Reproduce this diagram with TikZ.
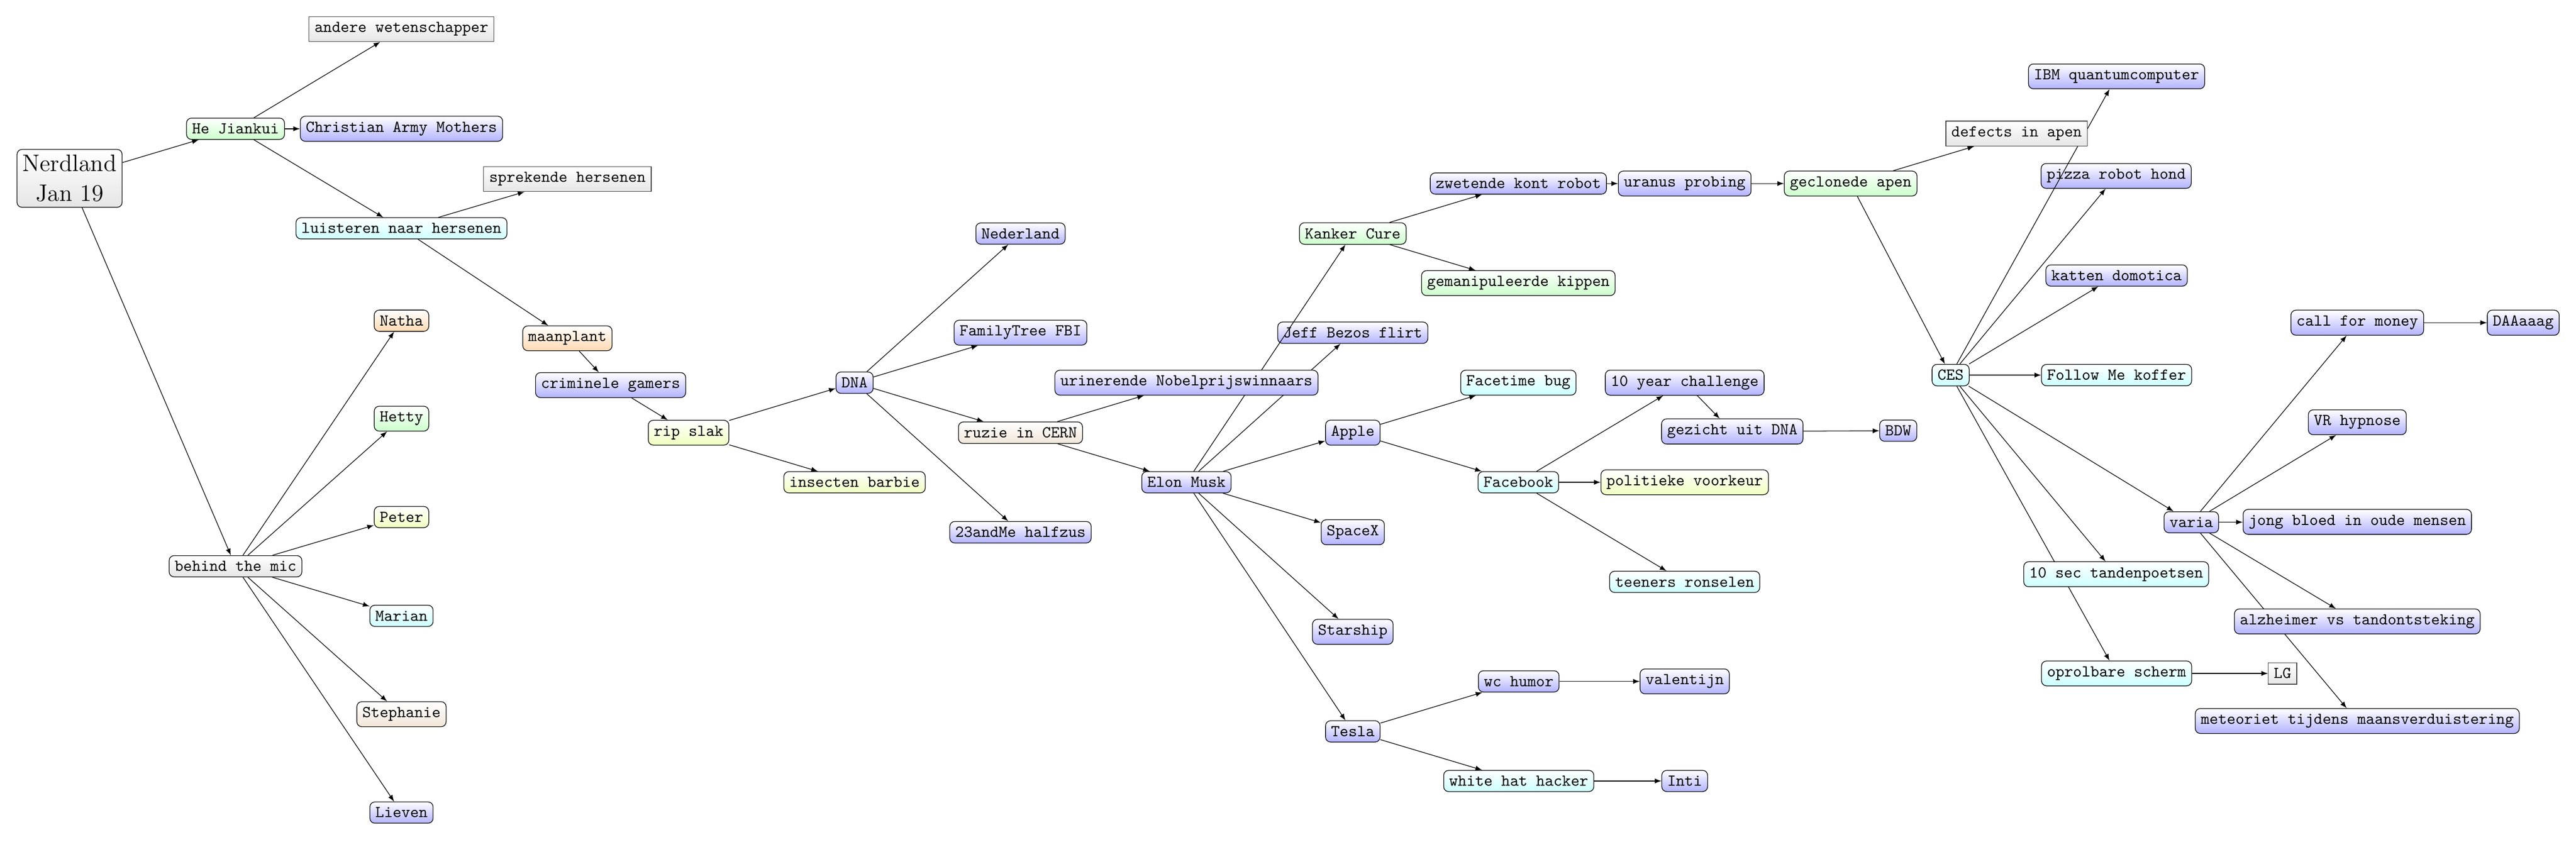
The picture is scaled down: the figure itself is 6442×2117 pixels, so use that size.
\documentclass[tikz,border=0pt]{standalone}
\usetikzlibrary{arrows}

\pgfdeclarelayer{lijnen}
\pgfsetlayers{lijnen,main}

\tikzset{
	topic/.style={draw, rounded corners=3pt, font=\ttfamily, top color=white},
	blauw/.style={topic, bottom color=blue!30},
	groen/.style={topic, bottom color=green!20},
	cyaan/.style={topic, bottom color=cyan!20},
	geel/.style={topic, bottom color=lime!25},
	oranje/.style={topic, bottom color=orange!30},
	bruin/.style={topic, bottom color=brown!20},
	grijs/.style={topic, bottom color=black!10},
	kader/.style={draw=black!75, font=\ttfamily, top color=white, bottom color=black!10},
	pijl/.style={-latex}
}

\begin{document}
\begin{tikzpicture}[x=0.08489mm, y=-0.08489mm]
			\useasboundingbox (0,0) rectangle (6442,2117);

			% wortel
			\node[grijs, font=\Large, align=center] (nerdland) at (174,446) {Nerdland\\Jan 19};

			% He Jiankui tak
			\node[groen] (he) at (589,322) {He Jiankui};
			\node[kader] (andere) at (1004,73) {andere wetenschapper};
			\node[blauw] (christian) at (1004,322) {Christian Army Mothers};
			\node[cyaan] (luisteren) at (1004,571) {luisteren naar hersenen};
			\node[kader] (sprekende) at (1419,448) {sprekende hersenen};
			\node[oranje] (maanplant) at (1419,846) {maanplant};
			\node[blauw] (gamers) at (1527,963) {criminele gamers};
			\node[geel] (slak) at (1722,1082) {rip slak};
			\node[geel] (insecten) at (2137,1206) {insecten barbie};

			% DNA
			\node[blauw] (dna) at (2137,957) {DNA};
			\node[blauw] (nederland) at (2552,584) {Nederland};
			\node[blauw] (familytree) at (2552,832) {FamilyTree FBI};
			\node[bruin] (cern) at (2552,1082) {ruzie in CERN};
			\node[blauw] (halfzus) at (2552,1331) {23andMe halfzus};

			% Elon Musk
			\node[blauw] (elon) at (2967,1206) {Elon Musk};
			\node[groen] (kanker) at (3383,584) {Kanker Cure};
			\node[blauw] (jeff) at (3383,832) {Jeff Bezos flirt};
			\node[blauw] (apple) at (3383,1082) {Apple};
			\node[blauw] (spacex) at (3383,1331) {SpaceX};
			\node[blauw] (starship) at (3383,1580) {Starship};
			\node[blauw] (tesla) at (3383,1829) {Tesla};
			\node[blauw] (zwetende) at (3797,459) {zwetende kont robot};
			\node[groen] (kippen) at (3797,708) {gemanipuleerde kippen};
			\node[cyaan] (facetime) at (3797,957) {Facetime bug};
			\node[cyaan] (facebook) at (3797,1206) {Facebook};
			\node[blauw] (wc) at (3798,1704) {wc humor};
			\node[cyaan] (whitehat) at (3798,1953) {white hat hacker};
			\node[blauw] (uranus) at (4213,459) {uranus probing};
			\node[blauw] (challenge) at (4213,957) {10 year challenge};
			\node[geel] (politiek) at (4213,1206) {politieke voorkeur};
			\node[cyaan] (teeners) at (4213,1455) {teeners ronselen};
			\node[blauw] (valentijn) at (4213,1704) {valentijn};
			\node[blauw] (inti) at (4213,1953) {Inti};
			\node[blauw] (gezicht) at (4332,1079) {gezicht uit DNA};
			\node[blauw] (bdw) at (4747,1077) {BDW};

			% CES
			\node[groen] (apen) at (4628,459) {geclonede apen};
			\node[cyaan] (ces) at (4878,938) {CES};
			\node[blauw] (ibm) at (5293,191) {IBM quantumcomputer};
			\node[blauw] (pizza) at (5292,440) {pizza robot hond};
			\node[blauw] (katten) at (5293,689) {katten domotica};
			\node[cyaan] (koffer) at (5293,938) {Follow Me koffer};
			\node[cyaan] (tanden) at (5292,1436) {10 sec tandenpoetsen};
			\node[cyaan] (scherm) at (5293,1684) {oprolbare scherm};
			\node[kader] (lg) at (5708,1684) {LG};
			\node[blauw] (varia) at (5480,1306) {varia};
			\node[blauw] (money) at (5895,807) {call for money};
			\node[blauw] (daaaaag) at (6310,807) {DAAaaag};
			\node[blauw] (vr) at (5895,1056) {VR hypnose};
			\node[blauw] (bloed) at (5895,1305) {jong bloed in oude mensen};
			\node[blauw] (alzheimer) at (5895,1554) {alzheimer vs tandontsteking};
			\node[blauw] (meteoriet) at (5895,1803) {meteoriet tijdens maansverduistering};

			% behind the mic
			\node[grijs] (mic) at (589,1416) {behind the mic};
			\node[oranje] (natha) at (1004,802) {Natha};
			\node[groen] (hetty) at (1004,1047) {Hetty};
			\node[geel] (peter) at (1004,1293) {Peter};
			\node[cyaan] (marian) at (1004,1540) {Marian};
			\node[bruin] (stephanie) at (1004,1786) {Stephanie};
			\node[blauw] (lieven) at (1004,2032) {Lieven};

			% lijnen die over een knoop lopen
			\draw[pijl] (elon) -- (kanker);
			\draw[pijl] (ces) -- (ibm);
			\node[blauw] (urinerende) at (2967,957) {urinerende Nobelprijswinnaars};
			\node[kader] (defects) at (5043,334) {defects in apen};

			% overige lijnen
			\begin{pgfonlayer}{lijnen}
			\foreach \k in {he,mic} \draw[pijl] (nerdland) -- (\k);
			\foreach \k in {andere,christian,luisteren} \draw[pijl] (he) -- (\k);
			\foreach \k in {sprekende,maanplant} \draw[pijl] (luisteren) -- (\k);
			\draw[pijl] (maanplant) -- (gamers);
			\draw[pijl] (gamers) -- (slak);
			\foreach \k in {dna,insecten} \draw[pijl] (slak) -- (\k);
			\foreach \k in {nederland,familytree,cern,halfzus} \draw[pijl] (dna) -- (\k);
			\foreach \k in {urinerende,elon} \draw[pijl] (cern) -- (\k);
			\foreach \k in {jeff,apple,spacex,starship,tesla} \draw[pijl] (elon) -- (\k);
			\foreach \k in {zwetende,kippen} \draw[pijl] (kanker) -- (\k);
			\draw[pijl] (zwetende) -- (uranus);
			\draw[pijl] (uranus) -- (apen);
			\foreach \k in {defects,ces} \draw[pijl] (apen) -- (\k);
			\foreach \k in {facetime,facebook} \draw[pijl] (apple) -- (\k);
			\foreach \k in {challenge,politiek,teeners} \draw[pijl] (facebook) -- (\k);
			\draw[pijl] (challenge) -- (gezicht);
			\draw[pijl] (gezicht) -- (bdw);
			\foreach \k in {wc,whitehat} \draw[pijl] (tesla) -- (\k);
			\draw[pijl] (wc) -- (valentijn);
			\draw[pijl] (whitehat) -- (inti);
			\foreach \k in {pizza,katten,koffer,varia,tanden,scherm} \draw[pijl] (ces) -- (\k);
			\draw[pijl] (scherm) -- (lg);
			\foreach \k in {money,vr,bloed,alzheimer,meteoriet} \draw[pijl] (varia) -- (\k);
			\draw[pijl] (money) -- (daaaaag);
			\foreach \k in {natha,hetty,peter,marian,stephanie,lieven} \draw[pijl] (mic) -- (\k);
			\end{pgfonlayer}

		\end{tikzpicture}
\end{document}
